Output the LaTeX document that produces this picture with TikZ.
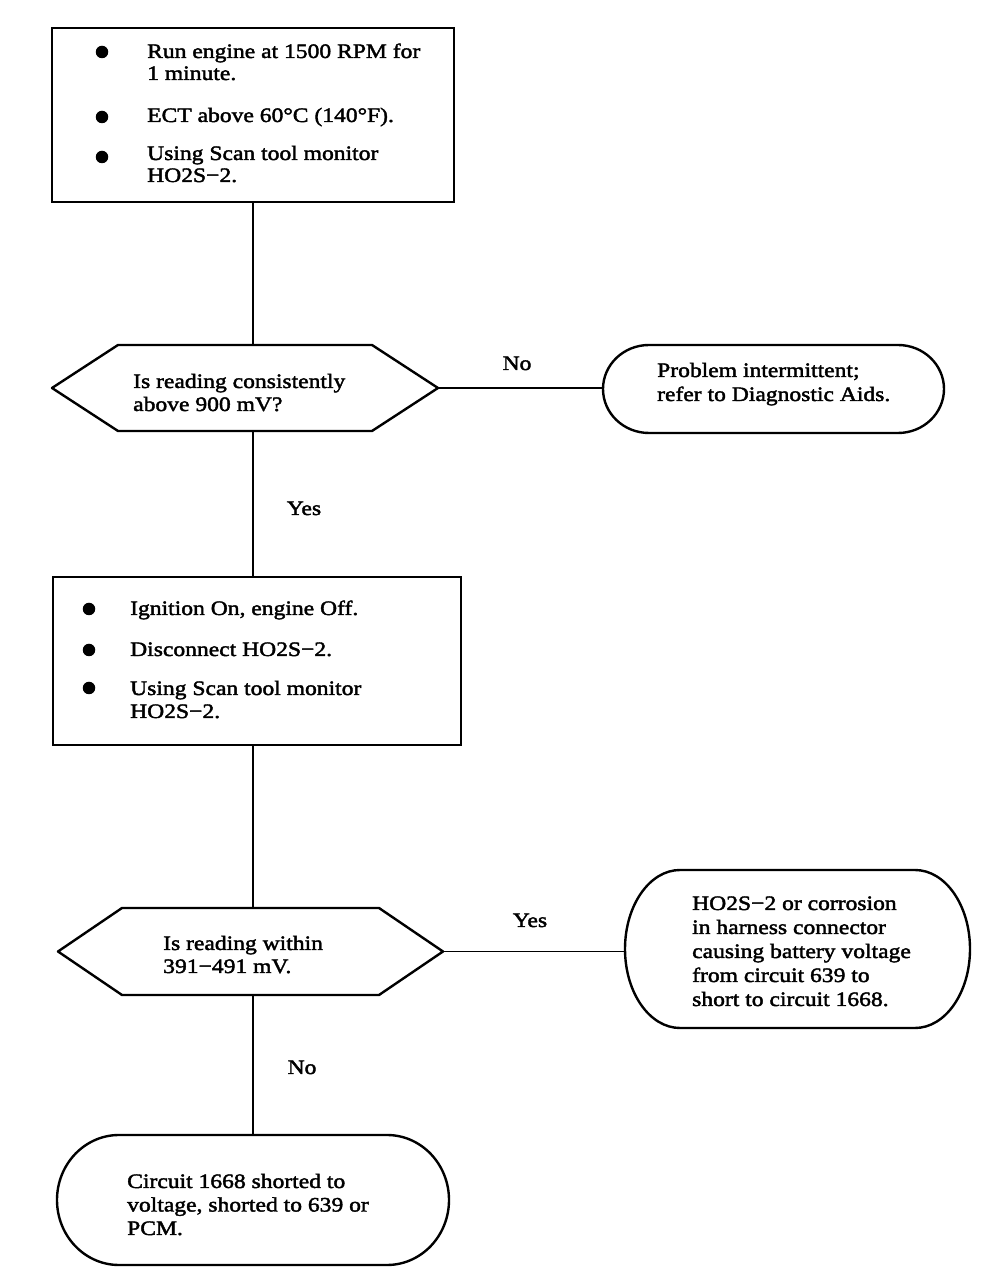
\documentclass[tikz,border=0pt]{standalone}
\usepackage{fontspec}
\setmainfont{Liberation Serif}[FakeStretch=1.15,FakeBold=2]
\begin{document}
\begin{tikzpicture}[x=1pt,y=1pt,
  shapeline/.style={line width=2.4pt, line join=round},
  conn/.style={line width=1.6pt},
  frame/.style={rectangle, inner sep=0pt, outer sep=0pt},
  txt/.style={anchor=base west, inner sep=0pt, font=\fontsize{20.5}{23}\selectfont},
  lbl/.style={anchor=base, inner sep=0pt, font=\fontsize{20.5}{23}\selectfont},
  dot/.style={circle, fill=black, inner sep=0pt, minimum size=12.5pt}]
\useasboundingbox[fill=white] (0,0) rectangle (1008,1288);
\newcommand\myhex[2]{\draw[shapeline] ([xshift=#2]#1.north west) -- ([xshift=-#2]#1.north east) -- (#1.east) -- ([xshift=-#2]#1.south east) -- ([xshift=#2]#1.south west) -- (#1.west) -- cycle;}
\newcommand\myoval[3]{\draw[shapeline] ([xshift=#2]#1.north west) -- ([xshift=-#2]#1.north east) arc[start angle=90, end angle=-90, x radius=#2, y radius=#3] -- ([xshift=#2]#1.south west) arc[start angle=270, end angle=90, x radius=#2, y radius=#3] -- cycle;}
% shapes
\node[frame, draw, line width=2.4pt, minimum width=402pt, minimum height=174pt] (b1) at (253,1173) {};
\node[frame, minimum width=386pt, minimum height=86pt] (d1) at (245,900) {};
\myhex{d1}{66}
\node[frame, minimum width=341pt, minimum height=88pt] (o1) at (773.5,899) {};
\myoval{o1}{46}{44}
\node[frame, draw, line width=2.4pt, minimum width=408pt, minimum height=168pt] (b2) at (257,627) {};
\node[frame, minimum width=385pt, minimum height=87pt] (d2) at (250.5,336.5) {};
\myhex{d2}{64}
\node[frame, minimum width=345pt, minimum height=158pt] (o2) at (797.5,339) {};
\myoval{o2}{55}{79}
\node[frame, minimum width=392pt, minimum height=130pt] (o3) at (253,88) {};
\myoval{o3}{62}{65}
% connectors
\draw[conn] (b1.south) -- (b1.south |- d1.north);
\draw[conn] (d1.east) -- (d1.east -| o1.west);
\draw[conn] (b1.south |- d1.south) -- (b1.south |- b2.north);
\draw[conn] (b1.south |- b2.south) -- (b1.south |- d2.north);
\draw[conn] (d2.east) -- (d2.east -| o2.west);
\draw[conn] (b1.south |- d2.south) -- (b1.south |- o3.north);
% bullets
\node[dot] (p1) at (102,1236) {};
\node[dot] (p2) at (102,1171) {};
\node[dot] (p3) at (102,1131) {};
\node[dot] (q1) at (89,679) {};
\node[dot] (q2) at (89,638) {};
\node[dot] (q3) at (89,600) {};
% texts
\node[txt] (t1) at (147,1230) {\vtop{\baselineskip=22pt\hbox{Run engine at 1500 RPM for}\hbox{1 minute.}}};
\node[txt] (t2) at (147,1166) {ECT above 60°C (140°F).};
\node[txt] (t3) at (147,1128) {\vtop{\baselineskip=22pt\hbox{Using Scan tool monitor}\hbox{HO2S−2.}}};
\node[txt] (t4) at (133,900) {\vtop{\baselineskip=23pt\hbox{Is reading consistently}\hbox{above 900 mV?}}};
\node[txt] (t5) at (657,911) {\vtop{\baselineskip=24pt\hbox{Problem intermittent;}\hbox{refer to Diagnostic Aids.}}};
\node[txt] (t6) at (130,673) {Ignition On, engine Off.};
\node[txt] (t7) at (130,632) {Disconnect HO2S−2.};
\node[txt] (t8) at (130,593) {\vtop{\baselineskip=23pt\hbox{Using Scan tool monitor}\hbox{HO2S−2.}}};
\node[txt] (t9) at (163,338) {\vtop{\baselineskip=23pt\hbox{Is reading within}\hbox{391−491 mV.}}};
\node[txt] (t10) at (692,378) {\vtop{\baselineskip=24pt\hbox{HO2S−2 or corrosion}\hbox{in harness connector}\hbox{causing battery voltage}\hbox{from circuit 639 to}\hbox{short to circuit 1668.}}};
\node[txt] (t11) at (127,100) {\vtop{\baselineskip=23.5pt\hbox{Circuit 1668 shorted to}\hbox{voltage, shorted to 639 or}\hbox{PCM.}}};
% labels
\node[lbl] (l1) at (517,918) {No};
\node[lbl] (l2) at (304,773) {Yes};
\node[lbl] (l3) at (530,361) {Yes};
\node[lbl] (l4) at (302,214) {No};
\end{tikzpicture}
\end{document}
